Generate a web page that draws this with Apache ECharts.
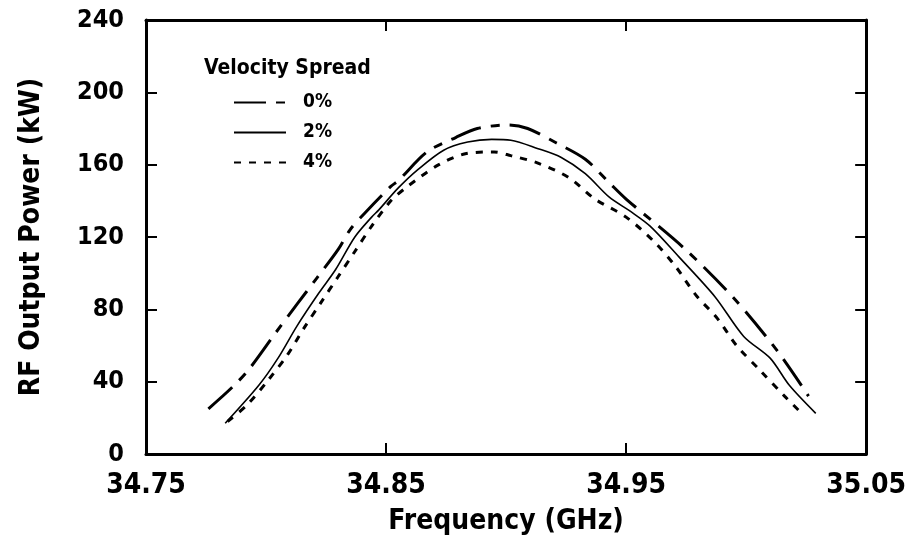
<!DOCTYPE html>
<html>
<head>
<meta charset="UTF-8">
<title>RF Output Power vs Frequency</title>
<script src="https://cdn.jsdelivr.net/npm/echarts/dist/echarts.min.js"></script>
<style>
    html, body { margin: 0; padding: 0; background: #fff; }
    #main { width: 909px; height: 541px; }
</style>
</head>
<body>
<div id="main"></div>
<script>
    // data
    var freqTicks = [34.75, 34.85, 34.95, 35.05];
    var freqInner = [34.85, 34.95];

    var freq0 = [34.776, 34.786, 34.793, 34.804, 34.813, 34.821, 34.830, 34.835, 34.841, 34.852, 34.855, 34.867,
        34.879, 34.888, 34.901, 34.909, 34.921, 34.933, 34.943, 34.950, 34.974, 34.995, 35.013, 35.026];
    var power0 = [25, 37, 47, 67, 83, 97, 113, 124, 133, 148, 151, 167,
        175, 180, 182, 180, 172, 163, 150, 141, 114, 86, 57, 32];

    var freq2 = [34.783, 34.797, 34.805, 34.813, 34.822, 34.829, 34.837, 34.844, 34.847, 34.855, 34.863, 34.874,
        34.884, 34.894, 34.902, 34.913, 34.923, 34.933, 34.943, 34.952, 34.960, 34.972, 34.987, 34.999,
        35.010, 35.018, 35.029];
    var power2 = [17, 38, 53, 71, 89, 102, 120, 131, 135, 147, 157, 168,
        172.5, 174, 173.5, 169, 164, 155, 142, 134, 126, 109, 87, 65,
        53, 38, 22.5];

    var freq4 = [34.784, 34.792, 34.801, 34.809, 34.816, 34.823, 34.830, 34.837, 34.844, 34.852, 34.859, 34.872,
        34.883, 34.895, 34.902, 34.913, 34.926, 34.937, 34.950, 34.962, 34.971, 34.979, 34.988, 34.996,
        35.006, 35.016, 35.022];
    var power4 = [18, 27, 41, 55, 70, 84, 98, 112, 126, 140, 148, 160,
        166, 167, 165, 161, 153, 141, 131, 117, 103, 88, 75, 60,
        46, 32, 24];

    var FONT = "'DejaVu Sans Condensed', 'Liberation Sans', Arial, sans-serif";

    function pairs(xs, ys) {
        var out = [];
        for (var i = 0; i < xs.length; i++) out.push([xs[i], ys[i]]);
        return out;
    }

    var myChart = echarts.init(document.getElementById('main'));

    var frameLine = { show: true, onZero: false, lineStyle: { color: '#000', width: 3 } };

    option = {
        backgroundColor: '#fff',
        animation: false,
        color: ['#000', '#000', '#000'],
        title: {
            text: 'Velocity Spread',
            left: 204, top: 58, padding: 0,
            textStyle: { fontFamily: FONT, fontSize: 21, fontWeight: 'bold', color: '#000' }
        },
        legend: {
            orient: 'vertical',
            left: 233, top: 93, padding: 0,
            itemWidth: 52, itemHeight: 14, itemGap: 11,
            selectedMode: false,
            itemStyle: { opacity: 0 },
            data: ['0%', '2%', '4%'],
            textStyle: { fontFamily: FONT, fontSize: 19, fontWeight: 'bold', color: '#000', padding: [0, 0, 0, 12] }
        },
        grid: { left: 146, right: 40, top: 20, bottom: 85 },
        xAxis: [{
            type: 'value', position: 'bottom',
            min: 34.75, max: 35.05,
            name: 'Frequency (GHz)', nameLocation: 'middle', nameGap: 54,
            nameTextStyle: { fontFamily: FONT, fontSize: 28, fontWeight: 'bold', color: '#000' },
            axisLine: frameLine,
            axisTick: { show: true, inside: true, length: 11, customValues: freqInner, lineStyle: { color: '#000', width: 2 } },
            axisLabel: {
                customValues: freqTicks, showMinLabel: true, showMaxLabel: true,
                formatter: function (v) { return v.toFixed(2); },
                fontFamily: FONT, fontSize: 28, fontWeight: 'bold', color: '#000', margin: 18
            },
            splitLine: { show: false }
        }, {
            type: 'value', position: 'top',
            min: 34.75, max: 35.05,
            axisLine: frameLine,
            axisTick: { show: true, inside: true, length: 11, customValues: freqInner, lineStyle: { color: '#000', width: 2 } },
            axisLabel: { show: false },
            splitLine: { show: false }
        }],
        yAxis: [{
            type: 'value', position: 'left',
            min: 0, max: 240, interval: 40,
            name: 'RF Output Power (kW)', nameLocation: 'middle', nameGap: 100,
            nameTextStyle: { fontFamily: FONT, fontSize: 28, fontWeight: 'bold', color: '#000' },
            axisLine: frameLine,
            axisTick: { show: true, inside: true, length: 11, lineStyle: { color: '#000', width: 2 } },
            axisLabel: { fontFamily: FONT, fontSize: 25, fontWeight: 'bold', color: '#000', margin: 22 },
            splitLine: { show: false }
        }, {
            type: 'value', position: 'right',
            min: 0, max: 240, interval: 40,
            axisLine: frameLine,
            axisTick: { show: true, inside: true, length: 11, lineStyle: { color: '#000', width: 2 } },
            axisLabel: { show: false },
            splitLine: { show: false }
        }],
        series: [{
            name: '0%', type: 'line', symbol: 'none', smooth: 0.3,
            lineStyle: { color: '#000', width: 3, type: [32, 10, 9, 10] },
            data: pairs(freq0, power0)
        }, {
            name: '2%', type: 'line', symbol: 'none', smooth: 0.3,
            lineStyle: { color: '#000', width: 1.6, type: 'solid' },
            data: pairs(freq2, power2)
        }, {
            name: '4%', type: 'line', symbol: 'none', smooth: 0.3,
            lineStyle: { color: '#000', width: 3, type: [7, 8] },
            data: pairs(freq4, power4)
        }]
    };

    myChart.setOption(option);
</script>
</body>
</html>
